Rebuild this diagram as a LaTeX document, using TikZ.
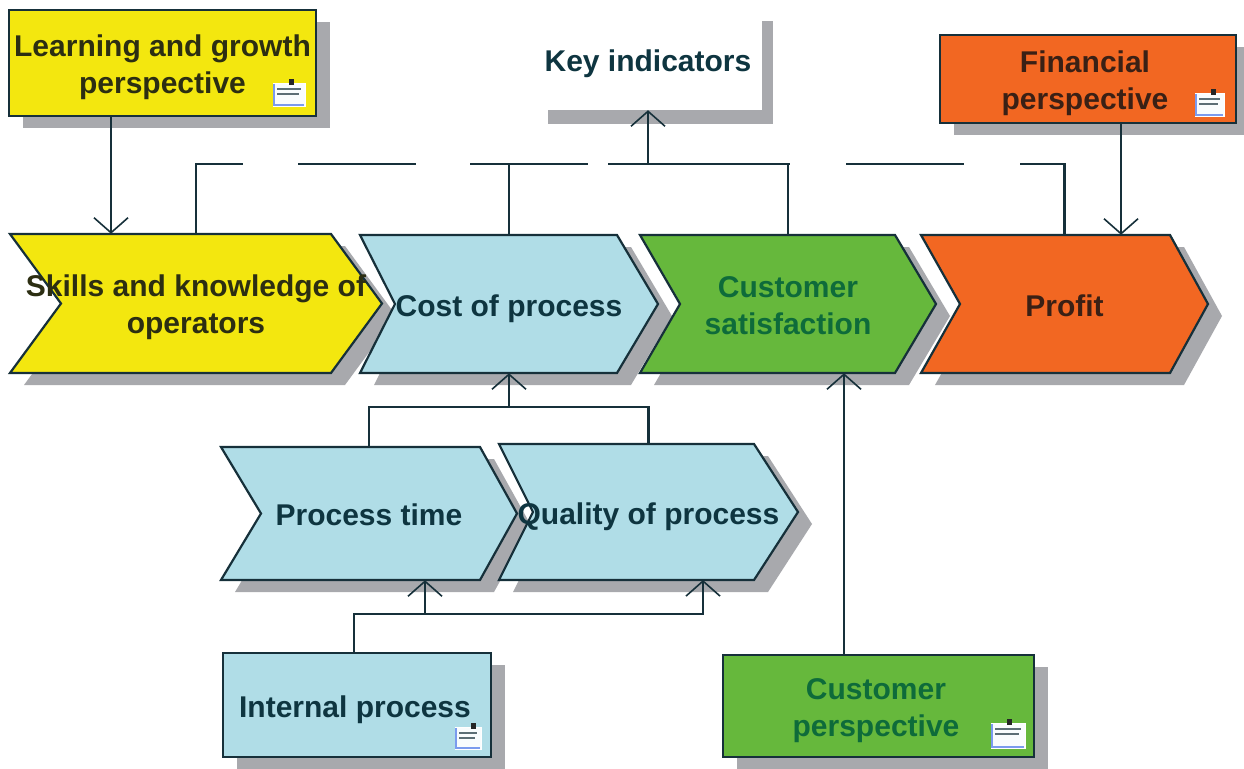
\documentclass[tikz,border=0pt]{standalone}
\usepackage{fontspec}
\setmainfont{Liberation Sans}
\usetikzlibrary{arrows.meta,shadows,calc}
\definecolor{cyellow}{HTML}{F3E70F}
\definecolor{cblue}{HTML}{B0DDE7}
\definecolor{cgreen}{HTML}{66B83C}
\definecolor{corange}{HTML}{F26722}
\definecolor{cshadow}{HTML}{A8A9AD}
\definecolor{cline}{HTML}{16303A}
\definecolor{tblue}{HTML}{0E3540}
\definecolor{tyellow}{HTML}{2C2E12}
\definecolor{tgreen}{HTML}{0E6B3A}
\definecolor{torange}{HTML}{3A2015}
\newcommand{\liftline}{\rule[-6.5pt]{0pt}{28pt}}
\newcommand{\tallline}{\rule{0pt}{30pt}}
\newcommand{\singleline}{\rule{0pt}{31pt}}
\tikzset{
  lbl/.style={font=\fontsize{30}{37}\selectfont\bfseries,align=center,inner sep=0pt,text=tblue,execute at begin node=\liftline},
  boxnode/.style={lbl,draw=cline,line width=2.4pt,
    drop shadow={shadow xshift=14pt,shadow yshift=-12pt,fill=cshadow,opacity=1}},
  conn/.style={draw=cline,line width=2.2pt},
  arr/.style={conn,-{Straight Barb[length=15pt,width=34pt,line width=1.6pt]}},
  chevline/.style={draw=cline,line width=2.2pt},
  chevshade/.style={fill=cshadow,draw=none},
  cyellow text/.style={text=tyellow},
  cblue text/.style={text=tblue},
  cgreen text/.style={text=tgreen},
  corange text/.style={text=torange},
}
% name, left x, notch x, top-right x, tip x, top y, bottom y, fill, text
\newcommand{\chevbox}[9]{%
  \pgfmathsetmacro{\chevmy}{(#6+#7)/2}%
  \pgfmathsetmacro{\chevmx}{(#2+#5)/2}%
  \pgfmathsetmacro{\chevw}{#5-#2}%
  \pgfmathsetmacro{\chevh}{#7-#6}%
  \fill[chevshade,shift={(14,12)}] (#2,#6) -- (#4,#6) -- (#5,\chevmy) -- (#4,#7) -- (#2,#7) -- (#3,\chevmy) -- cycle;
  \path[chevline,fill=#8] (#2,#6) -- (#4,#6) -- (#5,\chevmy) -- (#4,#7) -- (#2,#7) -- (#3,\chevmy) -- cycle;
  \node[lbl,#8 text,minimum width=\chevw pt,minimum height=\chevh pt] (#1) at (\chevmx,\chevmy) {#9};
}
\newcommand{\noteicon}[4]{% x1 y1 x2 y2
  \fill[white!92!cblue,draw=white] (#1,#2+5) rectangle (#3,#4);
  \draw[cline!70,line width=1.2pt] (#1+4,#2+11) -- (#3-4,#2+11) (#1+4,#2+16) -- (#3-6,#2+16);
  \draw[cblue!70!blue,line width=1.4pt] (#1+1,#2+6) -- (#1+1,#4-1) -- (#3-1,#4-1);
  \fill[black!85] (#1+16,#2+1) rectangle (#1+21,#2+7);
}
\begin{document}
\begin{tikzpicture}[x=1pt,y=-1pt]
\useasboundingbox (0,0) rectangle (1244,768);
\clip (0,0) rectangle (1244,768);
\fill[white] (0,0) rectangle (1244,768);

% key indicators
\fill[cshadow] (548,21) rectangle (773,124);
\node[lbl,fill=white,minimum width=228pt,minimum height=101pt] (key) at (648,59.5) {\singleline Key indicators};

% perspective boxes
\node[boxnode,fill=cyellow,text=tyellow,minimum width=307pt,minimum height=106pt] (learn) at (162.5,63) {\tallline Learning and growth\\perspective};
\node[boxnode,fill=corange,text=torange,minimum width=296pt,minimum height=88pt] (fin) at (1088,79) {\tallline Financial\hspace*{6pt}\\perspective\hspace*{6pt}};
\node[boxnode,fill=cblue,minimum width=268pt,minimum height=104pt] (intern) at (357,705) {\singleline Internal process\hspace*{4pt}};
\node[boxnode,fill=cgreen,text=tgreen,minimum width=311pt,minimum height=102pt] (cust) at (878.5,706) {\tallline Customer\hspace*{5pt}\\perspective\hspace*{5pt}};

% chevrons
\chevbox{skills}{10}{61}{331}{382}{234}{373}{cyellow}{\tallline Skills and knowledge of\\operators}
\chevbox{cost}{360}{395}{617}{658}{235}{373}{cblue}{\singleline Cost of process}
\chevbox{sat}{640}{680}{895}{936}{235}{373}{cgreen}{\tallline Customer\\satisfaction}
\chevbox{profit}{921}{960}{1170}{1208}{235}{373}{corange}{\singleline Profit}
\chevbox{ptime}{221}{261}{480}{517}{447}{580}{cblue}{\singleline Process time}
\chevbox{qual}{499}{533}{754}{798}{444}{580}{cblue}{\singleline Quality of process}

% note icons
\noteicon{273}{78}{305}{106}
\noteicon{1195}{88}{1224}{116}
\noteicon{455}{722}{481}{749}
\noteicon{991}{718}{1025}{748}

% coordinates on the bus
\coordinate (g1a) at (243,164);
\coordinate (g1b) at (298,164);
\coordinate (g2a) at (416,164);
\coordinate (g2b) at (470,164);
\coordinate (g3a) at (588,164);
\coordinate (g3b) at (608,164);
\coordinate (g4a) at (790,164);
\coordinate (g4b) at (846,164);
\coordinate (g5a) at (964,164);
\coordinate (g5b) at (1020,164);
\coordinate (costjoin) at (509,407);
\coordinate (inputjoin) at (425,614);
\coordinate (learnx) at (111,0);
\coordinate (finx) at (1121,0);
\coordinate (internx) at (354,0);
\coordinate (custx) at (844,0);
\coordinate (qualin) at (703,580);

% connectors
\draw[arr] (learn.south -| learnx) -- (skills.north -| learnx);
\draw[arr] (fin.south -| finx) -- (profit.north -| finx);
\draw[conn] (skills.north) |- (g1a);
\draw[conn] (g1b) -- (g2a);
\draw[conn] (g2b) -- (g3a);
\draw[conn] (g3b) -- (g4a);
\draw[conn] (g4b) -- (g5a);
\draw[conn] (g5b) -| (profit.north);
\draw[conn] (cost.north) -- (cost.north |- g2b);
\draw[conn] (sat.north) -- (sat.north |- g4a);
\draw[arr] (key.south |- g3b) -- (key.south);
\draw[arr] (costjoin) -- (cost.south);
\draw[conn] (ptime.north) |- (costjoin) -| (qual.north);
\draw[arr] (inputjoin) -- (ptime.south -| inputjoin);
\draw[conn] (intern.north -| internx) |- (inputjoin);
\draw[arr] (inputjoin) -| (qualin);
\draw[arr] (cust.north -| custx) -- (sat.south -| custx);
\end{tikzpicture}
\end{document}
